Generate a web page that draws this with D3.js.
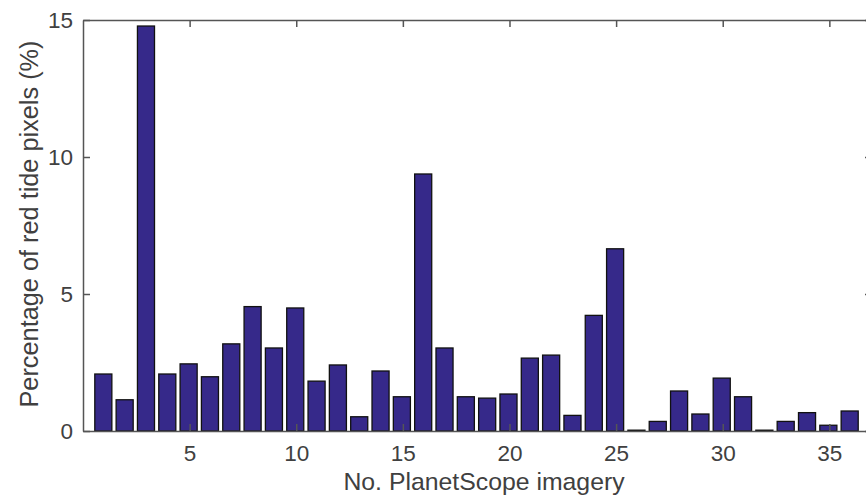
<!DOCTYPE html>
<html>
<head>
<meta charset="utf-8">
<script src="https://cdn.jsdelivr.net/npm/d3@7"></script>
<style>
  html, body { margin: 0; padding: 0; background: #fff; }
  svg { display: block; }
  text { font-family: "Liberation Sans", Arial, sans-serif; fill: #404040; }
</style>
</head>
<body>
<svg id="chart" width="866" height="500"></svg>
<script>
const imageNo = d3.range(1, 37);
const percentValues = [
  2.08, 1.14, 14.78, 2.08, 2.45, 1.98, 3.18, 4.54, 3.03, 4.49,
  1.82, 2.41, 0.52, 2.19, 1.25, 9.38, 3.03, 1.25, 1.20, 1.35,
  2.66, 2.77, 0.57, 4.22, 6.65, 0.03, 0.35, 1.46, 0.62, 1.93,
  1.25, 0.03, 0.35, 0.67, 0.21, 0.73
];
const xTicks = [5, 10, 15, 20, 25, 30, 35];
const yTicks = [0, 5, 10, 15];
const xLabel = "No. PlanetScope imagery";
const yLabel = "Percentage of red tide pixels (%)";

const svg = d3.select("#chart");
const mLeft = 83, mRight = 872, mTop = 20, mBottom = 431;
const x = d3.scaleLinear().domain([0, 37]).range([mLeft, mRight]);
const y = d3.scaleLinear().domain([0, 15]).range([mBottom, mTop]);
const barW = (x(1) - x(0)) * 0.8;
const axisColor = "#555";

// bars
svg.append("g").selectAll("rect")
  .data(imageNo)
  .join("rect")
  .attr("x", (d) => x(d) - barW / 2 - 1)
  .attr("width", barW)
  .attr("y", (d, i) => y(percentValues[i]))
  .attr("height", (d, i) => y(0) - y(percentValues[i]))
  .attr("fill", "#36298a")
  .attr("stroke", "#111")
  .attr("stroke-width", 1.3);

function styleAxis(g) {
  g.select(".domain").attr("stroke", axisColor).attr("stroke-width", 1.5);
  g.selectAll(".tick line").attr("stroke", axisColor).attr("stroke-width", 1.5);
  g.selectAll(".tick text").attr("fill", "#404040")
    .style("font-family", '"Liberation Sans", Arial, sans-serif')
    .style("font-size", "22.5px");
}

// bottom axis
const xAxis = svg.append("g").attr("transform", `translate(0,${mBottom})`)
  .call(d3.axisBottom(x).tickValues(xTicks).tickSizeInner(-7).tickSizeOuter(0).tickPadding(14));
styleAxis(xAxis);
// top axis
const xTop = svg.append("g").attr("transform", `translate(0,${mTop})`)
  .call(d3.axisTop(x).tickValues(xTicks).tickSizeInner(-7).tickSizeOuter(0).tickFormat(""));
styleAxis(xTop);
// left axis
const yAxis = svg.append("g").attr("transform", `translate(${mLeft},0)`)
  .call(d3.axisLeft(y).tickValues(yTicks).tickSizeInner(-7).tickSizeOuter(0).tickPadding(10));
styleAxis(yAxis);
// right axis
const yRight = svg.append("g").attr("transform", `translate(${mRight},0)`)
  .call(d3.axisRight(y).tickValues(yTicks).tickSizeInner(-7).tickSizeOuter(0).tickFormat(""));
styleAxis(yRight);

// labels
svg.append("text")
  .attr("x", 484)
  .attr("y", 490)
  .attr("text-anchor", "middle")
  .style("font-size", "24.8px")
  .text(xLabel);

svg.append("text")
  .attr("transform", `translate(38,224) rotate(-90)`)
  .attr("text-anchor", "middle")
  .style("font-size", "25.3px")
  .text(yLabel);
</script>
</body>
</html>
